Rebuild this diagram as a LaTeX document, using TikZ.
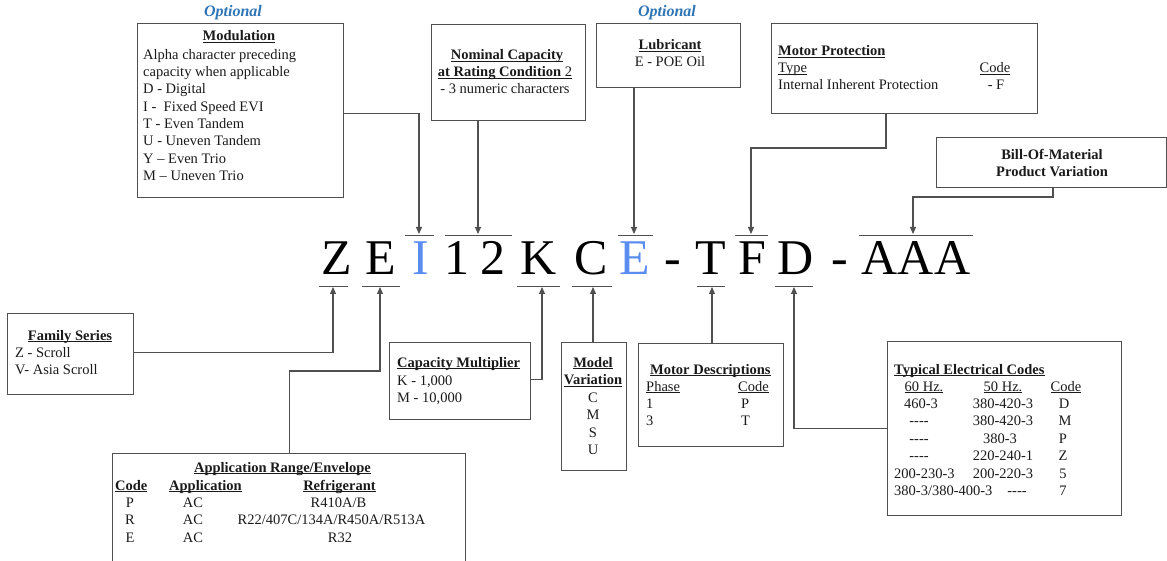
\documentclass[tikz,border=0pt]{standalone}
\usepackage{fontspec}
\setmainfont{Liberation Serif}
\usetikzlibrary{arrows.meta,calc}
\definecolor{boxc}{HTML}{505050}
\definecolor{linec}{HTML}{505050}
\definecolor{txtc}{HTML}{1A1A1A}
\definecolor{blueI}{HTML}{5B8CF0}
\definecolor{optc}{HTML}{2E75B6}
\newcommand\ulx[1]{\underline{\smash{#1}}}
\begin{document}
\begin{tikzpicture}[x=1pt,y=-1pt,
 box/.style={draw=boxc, line width=1.2pt, inner sep=0pt, anchor=north west},
 t/.style={inner sep=0pt, text=txtc, font=\fontsize{14.5}{17}\selectfont},
 tl/.style={t, anchor=base west},
 tc/.style={t, anchor=base},
 codech/.style={inner sep=0pt, anchor=base, text=black, font=\fontsize{50}{60}\selectfont},
 conn/.style={draw=linec, line width=1.2pt},
 arr/.style={conn, -{Triangle[length=7pt,width=6pt]}},
 bar/.style={draw=linec, line width=0.9pt},
 opt/.style={inner sep=0pt, anchor=base, text=optc, font=\fontsize{16}{18}\selectfont\bfseries\itshape}]
\useasboundingbox (0,0) rectangle (1167,561);

% ---------- code letters ----------
\node[codech] (cZ) at (337,275) {Z};
\node[codech] (cE) at (380.5,275) {E};
\node[codech, text=blueI] (cI) at (421,275) {I};
\node[codech] (c1) at (457,275) {1};
\node[codech] (c2) at (493,275) {2};
\node[codech] (cK) at (539,275) {K};
\node[codech] (cC) at (591,275) {C};
\node[codech, text=blueI] (cE2) at (635,275) {E};
\node[codech] (cH1) at (673,275) {-};
\node[codech] (cT) at (711,275) {T};
\node[codech] (cF) at (752,275) {F};
\node[codech] (cD) at (796,275) {D};
\node[codech] (cH2) at (840,275) {-};
\node[codech] (cA) at (916,275) {AAA};

% over / under bars
\draw[bar] (405,235) -- (434,235);
\draw[bar] (445,235) -- (512,235);
\draw[bar] (618,235) -- (653,235);
\draw[bar] (735,235) -- (768,235);
\draw[bar] (859,235) -- (973,235);
\draw[bar] (319,286) -- (348,286);
\draw[bar] (362,286) -- (400,286);
\draw[bar] (517,286) -- (560,286);
\draw[bar] (572,286) -- (612,286);
\draw[bar] (697,286) -- (725,286);
\draw[bar] (775,286) -- (813,286);

\coordinate (oI) at (419,234);
\coordinate (o12) at (478,234);
\coordinate (oE2) at (634,234);
\coordinate (oF) at (751,234);
\coordinate (oA) at (913,234);
\coordinate (uZ) at (333,287);
\coordinate (uE) at (380,287);
\coordinate (uK) at (542,287);
\coordinate (uC) at (593,287);
\coordinate (uT) at (712,287);
\coordinate (uD) at (794,287);

% ---------- boxes ----------
\node[box, minimum width=206, minimum height=174] (mod) at (137,23) {};
\node[box, minimum width=154, minimum height=96] (nom) at (431,24) {};
\node[box, minimum width=144, minimum height=64] (lub) at (596,23) {};
\node[box, minimum width=266, minimum height=90] (mp) at (771,23) {};
\node[box, minimum width=230, minimum height=50] (bom) at (936,137) {};
\node[box, minimum width=126, minimum height=81] (fam) at (7,313) {};
\node[box, minimum width=353, minimum height=130] (app) at (112,453) {};
\node[box, minimum width=141, minimum height=77] (cm) at (389,342) {};
\node[box, minimum width=65, minimum height=128] (mv) at (561,342) {};
\node[box, minimum width=145, minimum height=103] (md) at (638,343) {};
\node[box, minimum width=234, minimum height=174] (ec) at (887,341) {};

% ---------- optional labels ----------
\node[opt] (opt1) at (233,17) {Optional};
\node[opt] (opt2) at (667,17) {Optional};

% ---------- connectors ----------
\coordinate (mpk) at (886,148);
\coordinate (bk) at (1053,197);
\coordinate (ak) at (380,371);
\draw[arr] ([yshift=-3pt]mod.east) -| (oI);
\draw[arr] (nom.south -| o12) -- (o12);
\draw[arr] (lub.south -| oE2) -- (oE2);
\draw[arr] (mp.south -| mpk) -- (mpk) -| (oF);
\draw[arr] (bom.south -| bk) -- (bk) -| (oA);
\draw[arr] ([yshift=1.5pt]fam.east) -| (uZ);
\draw[arr] (app.north) |- (ak) -- (uE);
\draw[arr] ([yshift=1.5pt]cm.east) -| (uK);
\draw[arr] (mv.north -| uC) -- (uC);
\draw[arr] (md.north -| uT) -- (uT);
\draw[arr] (ec.west) -| (uD);

% ---------- Modulation ----------
\node[tc] at (239,41) {\ulx{\textbf{Modulation}}};
\node[tl] at (143,60) {Alpha character preceding};
\node[tl] at (143,77) {capacity when applicable};
\node[tl] at (143,94) {D - Digital};
\node[tl] at (143,111.5) {I -\ \ Fixed Speed EVI};
\node[tl] at (143,129) {T - Even Tandem};
\node[tl] at (143,146) {U - Uneven Tandem};
\node[tl] at (143,163.5) {Y – Even Trio};
\node[tl] at (143,181) {M – Uneven Trio};

% ---------- Nominal capacity ----------
\node[tc] at (507,60) {\ulx{\textbf{Nominal Capacity}}};
\node[tc] at (505,77) {\ulx{\textbf{at Rating Condition} 2}};
\node[tc] at (505,94) {- 3 numeric characters};

% ---------- Lubricant ----------
\node[tc] at (670,50) {\ulx{\textbf{Lubricant}}};
\node[tc] at (670,67) {E - POE Oil};

% ---------- Motor protection ----------
\node[tl] at (778,56) {\ulx{\textbf{Motor Protection}}};
\node[tl] at (778,73) {\ulx{Type}};
\node[tc] at (995,73) {\ulx{Code}};
\node[tl] at (778,90) {Internal Inherent Protection};
\node[tc] at (996,90) {- F};

% ---------- Bill of material ----------
\node[tc] at (1052,160) {\textbf{Bill-Of-Material}};
\node[tc] at (1052,177) {\textbf{Product Variation}};

% ---------- Family series ----------
\node[tc] at (70,340) {\ulx{\textbf{Family Series}}};
\node[tl] at (15,357) {Z - Scroll};
\node[tl] at (15,374) {V- Asia Scroll};

% ---------- Application range ----------
\node[tc] at (282.5,472) {\ulx{\textbf{Application Range/Envelope}}};
\node[tl] at (115,490) {\ulx{\textbf{Code}}};
\node[tl] at (169,490) {\ulx{\textbf{Application}}};
\node[tc] at (339.5,490) {\ulx{\textbf{Refrigerant}}};
\node[tc] at (130,507) {P};
\node[tc] at (193,507) {AC};
\node[tc] at (338.5,507) {R410A/B};
\node[tc] at (130,524.5) {R};
\node[tc] at (193,524.5) {AC};
\node[tc] at (331.5,524.5) {R22/407C/134A/R450A/R513A};
\node[tc] at (130,542) {E};
\node[tc] at (193,542) {AC};
\node[tc] at (340,542) {R32};

% ---------- Capacity multiplier ----------
\node[tl] at (397,367) {\ulx{\textbf{Capacity Multiplier}}};
\node[tl] at (397,385) {K - 1,000};
\node[tl] at (397,402) {M - 10,000};

% ---------- Model variation ----------
\node[tc] at (593,367) {\ulx{\textbf{Model}}};
\node[tc] at (593,384.5) {\ulx{\textbf{Variation}}};
\node[tc] at (593,402) {C};
\node[tc] at (593,419.5) {M};
\node[tc] at (593,437) {S};
\node[tc] at (593,454.5) {U};

% ---------- Motor descriptions ----------
\node[tl] at (650,374) {\ulx{\textbf{Motor Descriptions}}};
\node[tl] at (646,391) {\ulx{Phase}};
\node[tl] at (738,391) {\ulx{Code}};
\node[tl] at (646,408) {1};
\node[tl] at (741,408) {P};
\node[tl] at (646,425.5) {3};
\node[tl] at (741,425.5) {T};

% ---------- Typical electrical codes ----------
\node[tl] at (894,374) {\ulx{\textbf{Typical Electrical Codes}}};
\node[tc] at (924,391) {\ulx{60 Hz.}};
\node[tc] at (1003,391) {\ulx{50 Hz.}};
\node[tc] at (1066,391) {\ulx{Code}};
\node[tc] at (921,408) {460-3};
\node[tc] at (1003,408) {380-420-3};
\node[tc] at (1064,408) {D};
\node[tc] at (919,425.5) {{-}{-}{-}{-}};
\node[tc] at (1003,425.5) {380-420-3};
\node[tc] at (1065,425.5) {M};
\node[tc] at (919,443) {{-}{-}{-}{-}};
\node[tc] at (1000,443) {380-3};
\node[tc] at (1063,443) {P};
\node[tc] at (919,460.5) {{-}{-}{-}{-}};
\node[tc] at (1003,460.5) {220-240-1};
\node[tc] at (1063,460.5) {Z};
\node[tl] at (894,478) {200-230-3};
\node[tc] at (1003,478) {200-220-3};
\node[tc] at (1063,478) {5};
\node[tl] at (894,495.5) {380-3/380-400-3};
\node[tc] at (1017,495.5) {{-}{-}{-}{-}};
\node[tc] at (1063,495.5) {7};
\end{tikzpicture}
\end{document}
